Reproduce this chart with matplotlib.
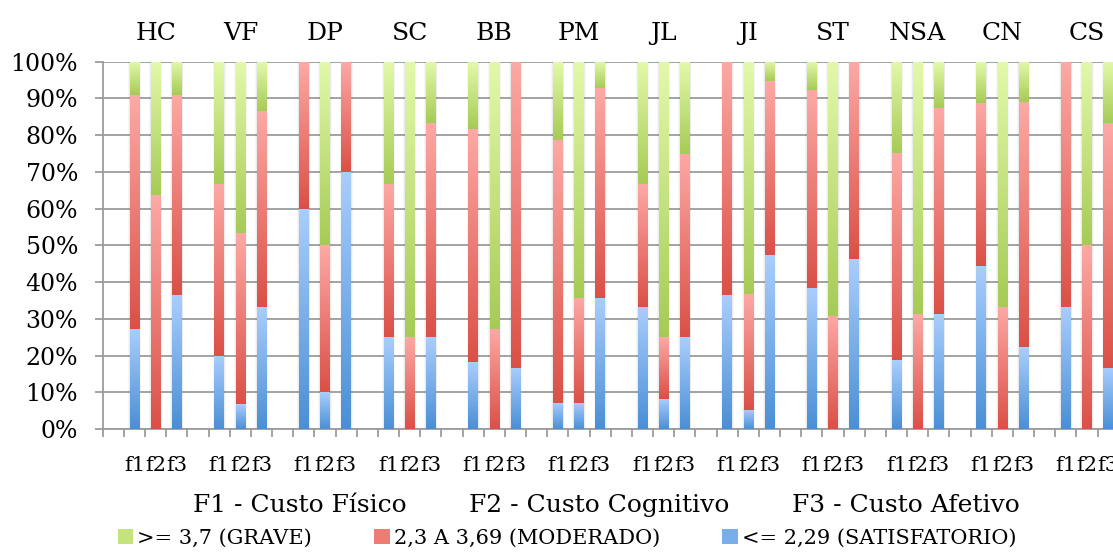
import matplotlib.pyplot as plt
import numpy as np
from matplotlib.colors import LinearSegmentedColormap
from matplotlib.patches import Rectangle
import matplotlib.transforms as mtransforms

# --- data (percent per group: f1, f2, f3) ---
groups = ['HC', 'VF', 'DP', 'SC', 'BB', 'PM', 'JL', 'JI', 'ST', 'NSA', 'CN', 'CS']
factors = ['f1', 'f2', 'f3']

satisfatorio = [[27.3, 0, 36.4], [20.0, 6.7, 33.3], [60.0, 10.0, 70.0], [25.0, 0, 25.0],
                [18.2, 0, 16.7], [7.1, 7.1, 35.7], [33.3, 8.3, 25.0], [36.4, 5.3, 47.4],
                [38.5, 0, 46.2], [18.8, 0, 31.3], [44.4, 0, 22.2], [33.3, 0, 16.7]]
moderado = [[63.6, 63.6, 54.5], [46.7, 46.7, 53.3], [40.0, 40.0, 30.0], [41.7, 25.0, 58.3],
            [63.6, 27.3, 83.3], [71.4, 28.6, 57.1], [33.3, 16.7, 50.0], [63.6, 31.6, 47.4],
            [53.8, 30.8, 53.8], [56.3, 31.3, 56.3], [44.4, 33.3, 66.7], [66.7, 50.0, 66.7]]
grave = [[9.1, 36.4, 9.1], [33.3, 46.7, 13.3], [0, 50.0, 0], [33.3, 75.0, 16.7],
         [18.2, 72.7, 0], [21.4, 64.3, 7.1], [33.3, 75.0, 25.0], [0, 63.2, 5.3],
         [7.7, 69.2, 0], [25.0, 68.8, 12.5], [11.1, 66.7, 11.1], [0, 50.0, 16.7]]

series_labels = ['>= 3,7 (GRAVE)', '2,3 A 3,69 (MODERADO)', '<= 2,29 (SATISFATORIO)']
axis_titles = ['F1 - Custo Físico', 'F2 - Custo Cognitivo', 'F3 - Custo Afetivo']

# (dark bottom, light top) gradient colours: satisfatorio, moderado, grave
colors = [('#4a8fd5', '#aacefd'), ('#da5047', '#fda9a5'), ('#a6cb55', '#e3f9aa')]

plt.rcParams['font.family'] = ['DejaVu Serif']

fig = plt.figure(figsize=(11.13, 5.52), dpi=100)
ax = fig.add_axes([102.8 / 1113, 123 / 552, 1016 / 1113, 367.3 / 552])

pos = np.array([4 * g + 1 + j for g in range(len(groups)) for j in range(3)])
sat = np.array(satisfatorio, dtype=float).ravel()
mod = np.array(moderado, dtype=float).ravel()
grv = np.array(grave, dtype=float).ravel()
total = sat + mod + grv

# soft shadow behind each bar
for w, a in [(0.62, 0.05), (0.54, 0.07)]:
    ax.bar(pos, total / total * 100, width=w, color='#606060', alpha=a, zorder=2, linewidth=0)

grad = np.linspace(0, 1, 256).reshape(-1, 1)
bottom = np.zeros(len(pos))
for vals, (dark, light) in zip([sat, mod, grv], colors):
    pct = vals / total * 100
    bars = ax.bar(pos, pct, width=0.45, bottom=bottom, color='none', linewidth=0, zorder=3)
    cmap = LinearSegmentedColormap.from_list('g', [dark, light])
    for b in bars:
        if b.get_height() <= 0:
            continue
        x0, y0 = b.get_x(), b.get_y()
        ax.imshow(grad, cmap=cmap, origin='lower', aspect='auto', interpolation='bilinear',
                  extent=(x0, x0 + b.get_width(), y0, y0 + b.get_height()), zorder=3)
    bottom += pct

ax.set_xlim(-0.5, 47.5)
ax.set_ylim(0, 100)

gc = '#9c9c9c'
ax.set_xticks(pos, factors * len(groups))
ax.set_xticks(np.arange(-0.5, 48, 1), minor=True)
ax.tick_params(axis='x', which='major', length=0, pad=19.5, labelsize=15)
ax.tick_params(axis='x', which='minor', length=5.8, width=1.3, color=gc)
ax.set_yticks(range(0, 101, 10), [f'{v}%' for v in range(0, 101, 10)])
ax.tick_params(axis='y', length=5.8, width=1.3, color=gc, pad=12, labelsize=17)
ax.yaxis.grid(True, color=gc, linewidth=1.3)
ax.set_axisbelow(True)
for s in ['top', 'right']:
    ax.spines[s].set_visible(False)
for s in ['left', 'bottom']:
    ax.spines[s].set_color(gc)
    ax.spines[s].set_linewidth(1.3)

trans = mtransforms.blended_transform_factory(ax.transData, ax.transAxes)
for g, name in enumerate(groups):
    ax.text(4 * g + 2, 1.059, name, transform=trans, ha='center', va='baseline', fontsize=18)

for xc, t in zip([300, 599, 906], axis_titles):
    fig.text(xc / 1113, (552 - 512) / 552, t, ha='center', va='baseline', fontsize=18)

handles = [Rectangle((0, 0), 1, 1, facecolor='#c4e37f'),
           Rectangle((0, 0), 1, 1, facecolor='#ee7b74'),
           Rectangle((0, 0), 1, 1, facecolor='#7aaee9')]
fig.legend(handles, series_labels, loc='center', bbox_to_anchor=(567 / 1113, (552 - 538) / 552),
           ncol=3, frameon=False, fontsize=15, handlelength=0.73, handleheight=0.73,
           handletextpad=0.2, columnspacing=3.0, borderpad=0, borderaxespad=0)

fig.savefig('out.png', dpi=100)
